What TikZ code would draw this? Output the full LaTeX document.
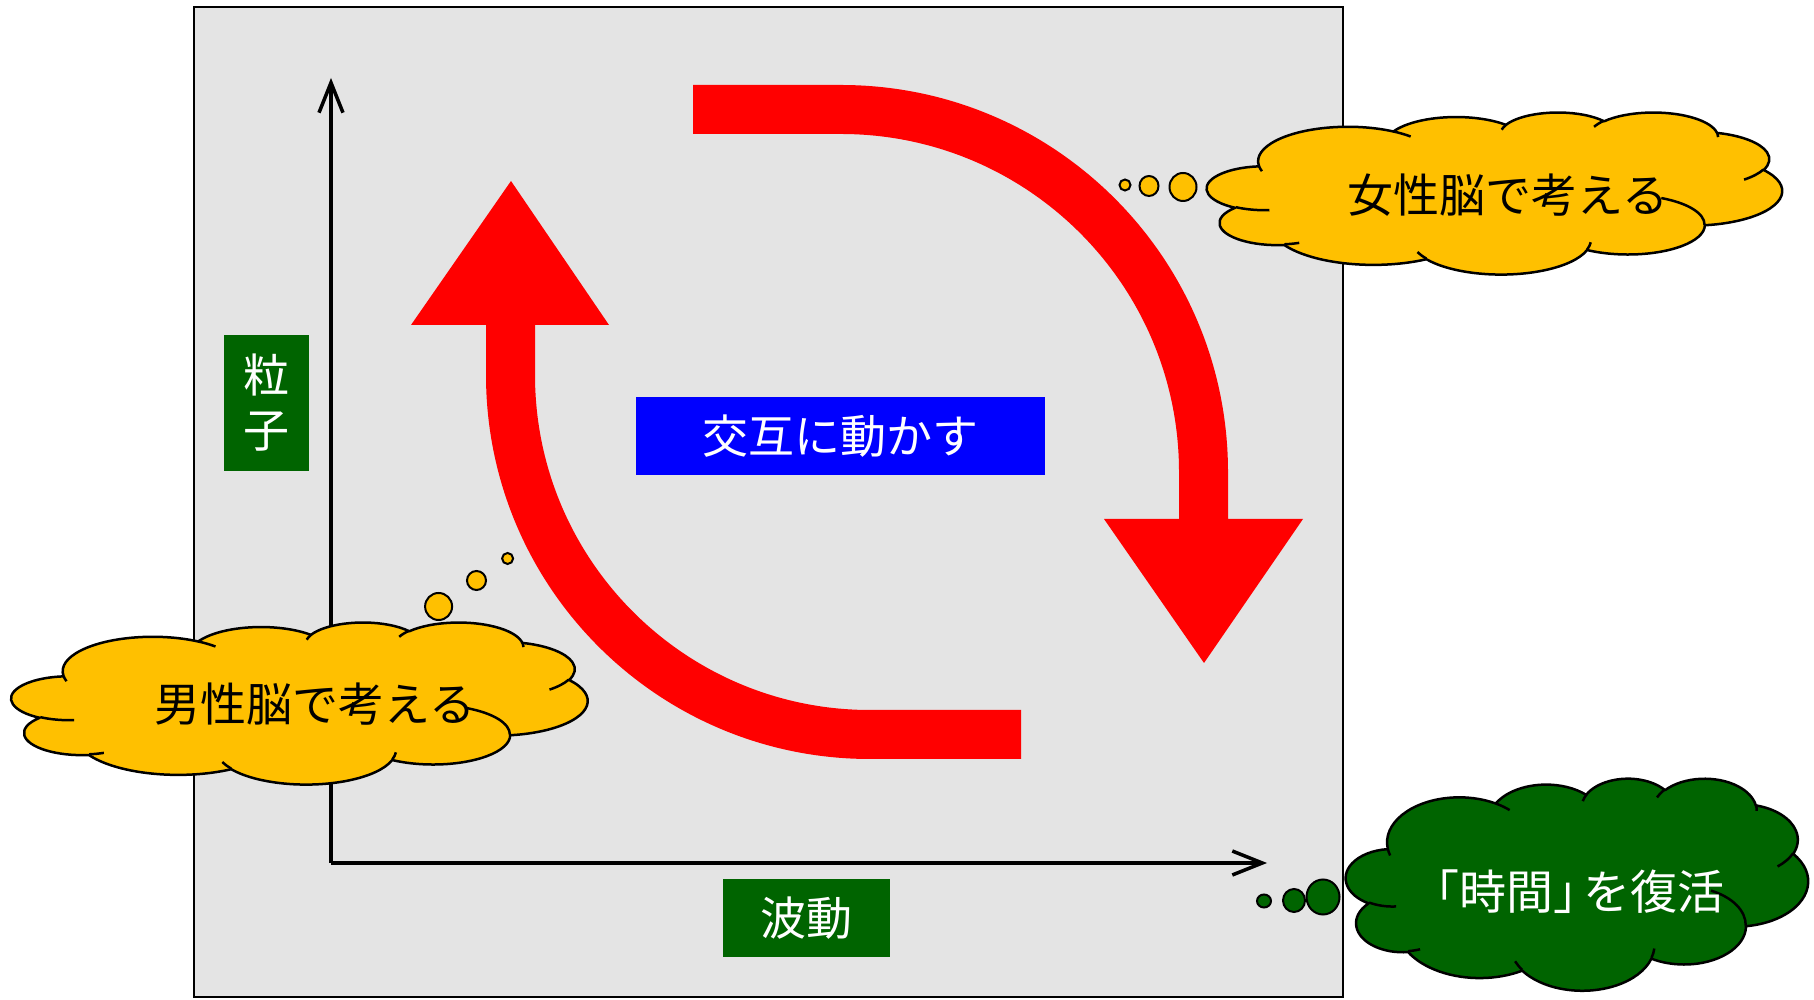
\documentclass[tikz,border=0pt]{standalone}
\usepackage{fontspec}
\newfontfamily\jp{Noto Sans CJK JP}
\usetikzlibrary{arrows.meta}
\definecolor{bggray}{RGB}{228,228,228}
\definecolor{cldyellow}{RGB}{255,192,0}
\definecolor{dkgreen}{RGB}{0,100,0}

% elliptical arc in DrawingML style (visual angles, y down)
\newcommand\cldarc[4]{%
  \pgfmathsetmacro\cldts{atan2((#1)*sin(#3),(#2)*cos(#3))}%
  \pgfmathsetmacro\cldte{atan2((#1)*sin((#3)+(#4)),(#2)*cos((#3)+(#4)))}%
  \pgfmathsetmacro\cldd{\cldte-\cldts}%
  \pgfmathsetmacro\cldd{((#4)>0) ? ((\cldd<0) ? (\cldd+360) : (\cldd)) : ((\cldd>0) ? (\cldd-360) : (\cldd))}%
  \pgfmathsetmacro\cldtend{\cldts+\cldd}%
  \pgfpatharcaxes{\cldts}{\cldtend}{\pgfpointxy{#1}{0}}{\pgfpointxy{0}{#2}}%
}
\newcommand\cldmain{%
  \pgfpathmoveto{\pgfpointxy{39.00}{143.70}}%
  \cldarc{67.53}{91.90}{-190.4875}{123.7805}%
  \cldarc{53.33}{72.67}{-144.1024}{89.9452}%
  \cldarc{43.65}{59.45}{-145.8079}{99.7230}%
  \cldarc{48.57}{65.95}{-130.9861}{117.2417}%
  \cldarc{53.33}{72.73}{-78.7089}{109.0269}%
  \cldarc{67.75}{92.20}{-46.2673}{130.2690}%
  \cldarc{57.85}{78.67}{0.6250}{114.0333}%
  \cldarc{67.52}{92.15}{22.4516}{115.1726}%
  \cldarc{77.20}{105.43}{66.2426}{75.7110}%
  \cldarc{43.60}{59.18}{-274.9421}{146.7356}%
  \cldarc{43.45}{59.45}{-246.8285}{152.5189}%
  \pgfpathclose}
\newcommand\cldinner{%
  \pgfpathmoveto{\pgfpointxy{46.93}{261.77}}\cldarc{43.45}{59.45}{86.742}{26.4295}%
  \pgfpathmoveto{\pgfpointxy{69.28}{348.99}}\cldarc{43.60}{59.18}{73.6105}{11.4475}%
  \pgfpathmoveto{\pgfpointxy{164.78}{390.90}}\cldarc{67.52}{92.15}{137.6242}{14.0811}%
  \pgfpathmoveto{\pgfpointxy{288.27}{347.51}}\cldarc{67.52}{92.15}{6.4533}{15.9984}%
  \pgfpathmoveto{\pgfpointxy{341.29}{229.54}}\cldarc{57.85}{78.67}{-70.2924}{70.9174}%
  \pgfpathmoveto{\pgfpointxy{417.98}{153.54}}\cldarc{53.33}{72.73}{30.3180}{27.7515}%
  \pgfpathmoveto{\pgfpointxy{383.24}{54.26}}\cldarc{48.57}{65.95}{-13.7443}{14.8589}%
  \pgfpathmoveto{\pgfpointxy{290.78}{39.52}}\cldarc{48.57}{65.95}{-149.1815}{18.1954}%
  \pgfpathmoveto{\pgfpointxy{221.41}{47.20}}\cldarc{43.65}{59.45}{-163.4943}{17.6864}%
  \pgfpathmoveto{\pgfpointxy{140.00}{51.92}}\cldarc{67.53}{91.90}{-66.7070}{12.3194}%
  \pgfpathmoveto{\pgfpointxy{41.27}{157.89}}\cldarc{67.53}{91.90}{157.6544}{11.8582}%
}
% #1,#2 top-left corner; #3,#4 x/y unit; #5 fill colour
\newcommand\drawcloud[5]{%
  \begin{scope}[shift={(#1,#2)}, x=#3, y=#4]
    \pgfsetlinewidth{2.5pt}%
    \pgfsetroundjoin
    \pgfsetstrokecolor{black}%
    \pgfsetfillcolor{#5}%
    \cldmain\pgfusepath{fill,stroke}%
    \cldinner\pgfusepath{stroke}%
  \end{scope}}

\tikzset{
  axis/.style={line width=3.5pt, -{Straight Barb[length=30pt,width=24pt]}},
  redarrow/.style={fill=red},
  lblbox/.style={fill=dkgreen, text=white, inner sep=0pt, align=center,
    font=\jp\fontsize{46}{55}\selectfont},
  bluebox/.style={fill=blue, text=white, inner sep=0pt,
    font=\jp\fontsize{46}{55}\selectfont},
  cldtext/.style={inner sep=0pt, font=\jp\fontsize{46}{55}\selectfont},
  yelbubble/.style={fill=cldyellow, draw=black, line width=2pt},
  grnbubble/.style={fill=dkgreen, draw=black, line width=2pt},
}

\begin{document}
\begin{tikzpicture}[x=1pt,y=1pt]
\useasboundingbox (0,0) rectangle (1814,1000);

% background panel
\draw[fill=bggray, line width=2.5pt] (194,3) rectangle (1343,993);

% axes
\coordinate (O) at (331,137);
\coordinate (ytip) at (331,922);
\coordinate (xtip) at (1267,137);
\draw[axis] (O) -- (ytip);
\draw[axis] (O) -- (xtip);

% red curved arrows
\fill[redarrow] (693,915) -- (841,915) arc[start angle=90, end angle=0, radius=387]
  -- (1228,481) -- (1303,481) -- (1204,337) -- (1104,481) -- (1179,481) -- (1179,528)
  arc[start angle=0, end angle=90, radius=338] -- (693,866) -- cycle;
\fill[redarrow] (1021,241) -- (870,241) arc[start angle=270, end angle=180, radius=384]
  -- (486,675) -- (411,675) -- (511,819) -- (609,675) -- (535,675) -- (535,625)
  arc[start angle=180, end angle=270, radius=335] -- (1021,290) -- cycle;

% labels
\node[lblbox, minimum width=85pt, minimum height=136pt] (ryushi) at (266.5,597) {粒\\子};
\node[bluebox, minimum width=409pt, minimum height=78pt] (kogo) at (840.5,564) {交互に動かす};
\node[lblbox, minimum width=167pt, minimum height=78pt] (hado) at (806.5,82) {波動};

% thought bubbles: female brain
\draw[yelbubble] (1125,815) ellipse[x radius=5.5, y radius=5.5];
\draw[yelbubble] (1149,814) ellipse[x radius=9.5, y radius=10];
\draw[yelbubble] (1183,813) ellipse[x radius=13.5, y radius=14];
\drawcloud{1207}{888}{1.33102pt}{-0.375pt}{cldyellow}
\node[cldtext] (josei) at (1508,805) {女性脳で考える};

% male brain
\draw[yelbubble] (507.6,441.5) ellipse[x radius=5.5, y radius=5.5];
\draw[yelbubble] (476.5,419.5) ellipse[x radius=9.5, y radius=9.5];
\draw[yelbubble] (438.6,393.5) ellipse[x radius=13.5, y radius=13.5];
\drawcloud{11.5}{378}{1.33333pt}{-0.375pt}{cldyellow}
\node[cldtext] (dansei) at (315,296) {男性脳で考える};

% time
\draw[grnbubble] (1264,99) ellipse[x radius=7, y radius=6.5];
\draw[grnbubble] (1294,99.5) ellipse[x radius=11, y radius=11.5];
\draw[grnbubble] (1323,103) ellipse[x radius=16.5, y radius=17.5];
\drawcloud{1346}{222}{1.06944pt}{-0.49074pt}{dkgreen}
\node[cldtext, text=white, font=\jp\fontsize{47}{56}\selectfont] (jikan) at (1568.5,108.5) {「時間」\kern-0.38em を復活};
\end{tikzpicture}
\end{document}
